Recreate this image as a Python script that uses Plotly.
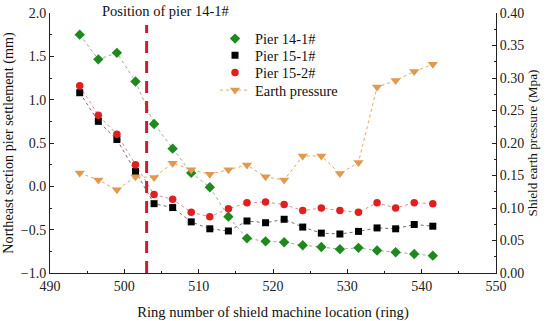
import plotly.graph_objects as go

rings = [494, 496.5, 499, 501.5, 504, 506.5, 509, 511.5, 514, 516.5,
         519, 521.5, 524, 526.5, 529, 531.5, 534, 536.5, 539, 541.5]
pier_14_1 = [1.75, 1.465, 1.54, 1.21, 0.72, 0.435, 0.155, -0.01, -0.35, -0.60,
             -0.635, -0.645, -0.68, -0.70, -0.725, -0.71, -0.74, -0.76, -0.78, -0.80]
pier_15_1 = [1.08, 0.75, 0.54, 0.17, -0.20, -0.245, -0.41, -0.49, -0.515, -0.40,
             -0.42, -0.38, -0.47, -0.54, -0.55, -0.52, -0.48, -0.49, -0.44, -0.46]
pier_15_2 = [1.16, 0.82, 0.60, 0.25, -0.095, -0.15, -0.30, -0.35, -0.26, -0.19,
             -0.18, -0.21, -0.28, -0.25, -0.28, -0.30, -0.19, -0.25, -0.19, -0.20]
earth_pressure = [0.154, 0.143, 0.128, 0.148, 0.147, 0.169, 0.159, 0.152, 0.159, 0.166,
                  0.148, 0.143, 0.180, 0.180, 0.153, 0.170, 0.286, 0.296, 0.310, 0.321]
pier_position = 503

FONT = "Liberation Serif"

fig = go.Figure()

series = [
    ("Pier 14-1#", pier_14_1, "#1e8a1e", "#8fb58f", "diamond", 8, "legend"),
    ("Pier 15-1#", pier_15_1, "#000000", "#707070", "square", 7, "legend2"),
    ("Pier 15-2#", pier_15_2, "#e01f1f", "#e88a8a", "circle", 7.5, "legend3"),
]
for name, vals, mc, lc, sym, size, lg in series:
    fig.add_trace(go.Scatter(x=rings, y=vals, mode="lines", showlegend=False,
                             line=dict(color=lc, width=1, dash="dot"), hoverinfo="skip"))
for name, vals, mc, lc, sym, size, lg in series:
    fig.add_trace(go.Scatter(x=rings, y=vals, mode="markers", name=name, legend=lg,
                             marker=dict(color=mc, symbol=sym, size=size)))

fig.add_trace(go.Scatter(x=rings, y=earth_pressure, mode="lines+markers", name="Earth pressure",
                         yaxis="y2", legend="legend4",
                         line=dict(color="#e6a866", width=1, dash="dot"),
                         marker=dict(color="#e09a50", symbol="triangle-down", size=9)))

fig.add_shape(type="line", xref="x", yref="paper", x0=pier_position, x1=pier_position,
              y0=0, y1=0.954, line=dict(color="#c8202a", width=3, dash="12px,8px"))

fig.add_annotation(text="Position of pier 14-1#", xref="paper", yref="paper",
                   x=0.259, y=1.009, xanchor="center", yanchor="middle", showarrow=False,
                   font=dict(family=FONT, size=14.5, color="#111"))

axis_common = dict(showgrid=False, zeroline=False, showline=True, linecolor="#222", linewidth=1,
                   ticks="inside", ticklen=4, tickcolor="#222", automargin=False,
                   tickfont=dict(family=FONT, size=14, color="#222"))

legend_rows = [("legend", 0.901), ("legend2", 0.837), ("legend3", 0.771), ("legend4", 0.703)]
legends = {}
for key, yy in legend_rows:
    legends[key] = dict(x=0.370, y=yy, xanchor="left", yanchor="middle",
                        bgcolor="rgba(0,0,0,0)", font=dict(family=FONT, size=14.4),
                        itemsizing="trace")

fig.update_layout(
    width=550, height=321,
    margin=dict(l=50, r=54, t=13, b=48),
    paper_bgcolor="white", plot_bgcolor="white",
    font=dict(family=FONT, color="#111"),
    xaxis=dict(range=[490, 550], dtick=10, tick0=490,
               minor=dict(dtick=5, ticks="inside", ticklen=2, tickcolor="#222"),
               title=dict(text="Ring number of shield machine location (ring)",
                          font=dict(family=FONT, size=14.6), standoff=15),
               **axis_common),
    yaxis=dict(range=[-1, 2], dtick=0.5, tick0=-1, tickformat=".1f",
               minor=dict(dtick=0.25, ticks="inside", ticklen=2, tickcolor="#222"),
               title=dict(text="Northeast section pier settlement (mm)",
                          font=dict(family=FONT, size=14.2), standoff=4),
               **axis_common),
    yaxis2=dict(range=[0, 0.4], dtick=0.05, tick0=0, tickformat=".2f", overlaying="y", side="right",
                minor=dict(dtick=0.025, ticks="inside", ticklen=2, tickcolor="#222"),
                title=dict(text="Shield earth pressure (Mpa)",
                           font=dict(family=FONT, size=13.2), standoff=4),
                **axis_common),
    showlegend=True,
    **legends,
)

fig.write_html("out.html", config={"displayModeBar": False},
               post_script="document.body.style.margin='0';document.body.style.padding='0';")
